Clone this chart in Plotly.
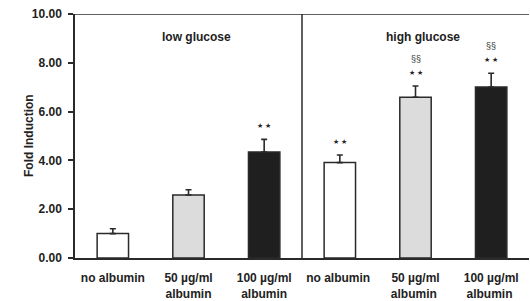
import plotly.graph_objects as go

categories = ["no albumin", "50 µg/ml<br>albumin", "100 µg/ml<br>albumin",
              "no albumin ", "50 µg/ml<br>albumin ", "100 µg/ml<br>albumin "]
values = [1.0, 2.58, 4.34, 3.91, 6.59, 7.01]
errors = [0.2, 0.22, 0.52, 0.31, 0.46, 0.56]
colors = ["#ffffff", "#dcdcdc", "#1f1f1f", "#ffffff", "#dcdcdc", "#1f1f1f"]
stars = ["", "", "★ ★", "★ ★", "★ ★", "★ ★"]
sections = ["", "", "", "", "§§", "§§"]
group_labels = ["low glucose", "high glucose"]
y_ticks = [0, 2, 4, 6, 8, 10]

x = list(range(len(categories)))
fig = go.Figure()
fig.add_trace(go.Bar(
    x=x, y=values, width=0.415,
    marker=dict(color=colors, line=dict(color="#2a2a2a", width=1.5)),
    error_y=dict(type="data", symmetric=False, array=errors,
                 arrayminus=[0] * len(values), color="#2a2a2a",
                 thickness=1.6, width=3),
    showlegend=False,
))

annotations = []
for i, (v, e, s, sec) in enumerate(zip(values, errors, stars, sections)):
    top = v + e
    if s:
        annotations.append(dict(x=i, y=top, yshift=8, text=s, showarrow=False,
                                font=dict(size=7, color="#222222"),
                                xanchor="center", yanchor="bottom"))
    if sec:
        annotations.append(dict(x=i, y=top, yshift=20, text=sec, showarrow=False,
                                font=dict(size=9, color="#333333"),
                                xanchor="center", yanchor="bottom"))
annotations.append(dict(x=1.1, y=9.06, text="<b>" + group_labels[0] + "</b>",
                        showarrow=False, font=dict(size=12, color="#222222")))
annotations.append(dict(x=4.1, y=9.06, text="<b>" + group_labels[1] + "</b>",
                        showarrow=False, font=dict(size=12, color="#222222")))
annotations.append(dict(xref="paper", yref="paper", x=0, xshift=-55, y=0.5,
                        text="<b>Fold Induction</b>", textangle=-90,
                        showarrow=False, font=dict(size=12, color="#222222")))

fig.update_layout(
    width=530, height=301,
    margin=dict(l=75, r=1, t=14, b=43, autoexpand=False),
    paper_bgcolor="white", plot_bgcolor="white",
    font=dict(family="Liberation Sans, Arial, sans-serif", color="#222222"),
    annotations=annotations,
    shapes=[
        dict(type="line", xref="x", yref="y", x0=2.5, x1=2.5, y0=0, y1=10,
             line=dict(color="#2a2a2a", width=1.5)),
        dict(type="line", xref="paper", yref="y", x0=0, x1=1, y0=10, y1=10,
             line=dict(color="#2a2a2a", width=1.5)),
    ],
    xaxis=dict(
        range=[-0.5, 5.5], tickmode="array", tickvals=x,
        ticktext=["<b>" + c + "</b>" for c in categories],
        showline=True, linecolor="#2a2a2a", linewidth=1.5,
        ticks="", tickfont=dict(size=12, color="#222222"),
        ticklabelstandoff=8,
        showgrid=False, zeroline=False, automargin=False,
    ),
    yaxis=dict(
        range=[0, 10], tickmode="array", tickvals=y_ticks,
        ticktext=["<b>%.2f</b>" % t for t in y_ticks],
        showline=True, linecolor="#2a2a2a", linewidth=1.5,
        ticks="outside", ticklen=5, tickwidth=1.5, tickcolor="#2a2a2a",
        tickfont=dict(size=12, color="#222222"),
        ticklabelstandoff=4,
        showgrid=False, zeroline=False, automargin=False,
    ),
)
fig.write_html("out.html", config={"displayModeBar": False},
               post_script="document.body.style.margin='0';")
